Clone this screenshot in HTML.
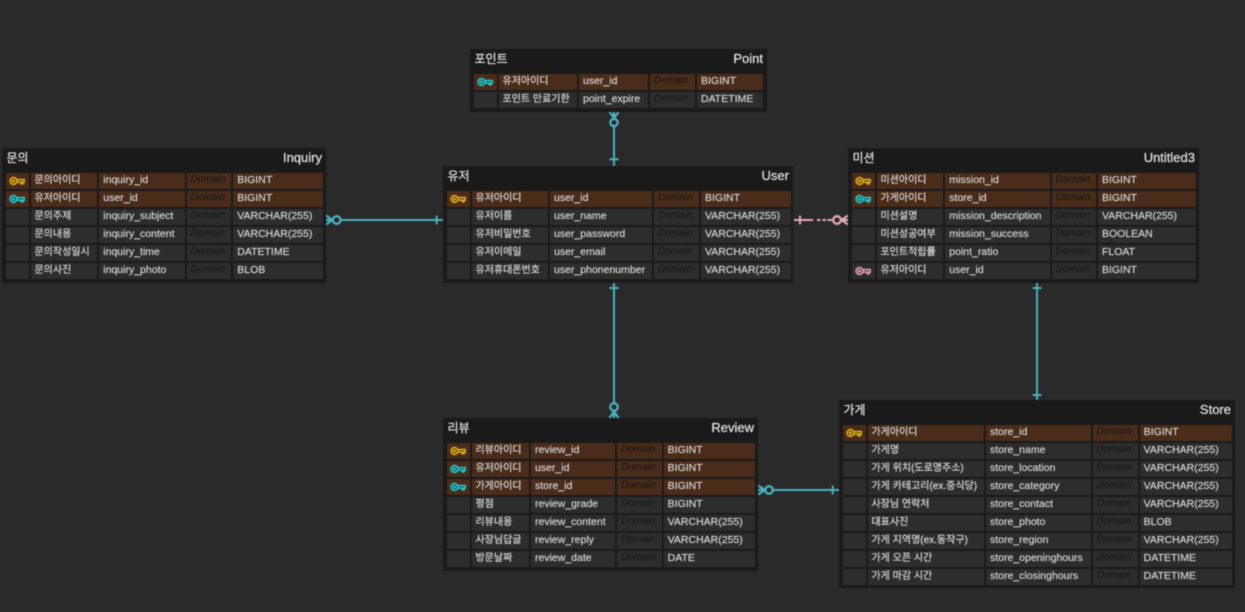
<!DOCTYPE html>
<html lang="ko"><head><meta charset="utf-8"><title>ERD</title>
<style>
html,body{margin:0;padding:0;background:#2a2a2a}
#c{position:relative;width:1245px;height:612px;overflow:hidden;background:#2a2a2a;font-family:"Liberation Sans","Noto Sans CJK KR",sans-serif;filter:blur(.4px)}
.t{position:absolute;background:#1a1a1a;box-sizing:border-box}
.h{position:absolute;left:4.5px;right:4px;top:.5px;height:24px;display:flex;justify-content:space-between;color:#e0e0e0;font-size:13px;line-height:18px;-webkit-text-stroke:.25px #e0e0e0}
.h b{font-weight:400;font-size:12px}
.g{position:absolute;top:25px;display:grid;grid-auto-rows:16.2px;row-gap:1.8px;column-gap:2px;font-size:10.5px;line-height:14px;color:#d9d9d9}
.g span{background:#2d2d2d;padding-left:4px;white-space:nowrap;overflow:hidden;display:block;-webkit-text-stroke:.15px #d9d9d9}
.g span:nth-child(5n+2){font-size:10px;padding-left:3.5px;line-height:15px;-webkit-text-stroke:.2px #d9d9d9}
.g span:nth-child(5n+4){font-style:italic;font-size:10px;color:#161616;line-height:13px;-webkit-text-stroke:0}
.g span.k{background:#4a2c1a}
.g span svg{display:block;margin:3px 0 0 -1px}
svg.l{position:absolute;left:0;top:0}
</style></head><body><div id="c">

<svg width="0" height="0" style="position:absolute"><defs>
<symbol id="key" viewBox="0 0 16 11"><g fill="none" stroke="currentColor" stroke-width="1.7"><circle cx="4.5" cy="5" r="3.4"/><circle cx="4.4" cy="5" r=".8"/><path d="M8 3.6H15.3V6.2H14V7.8H12.3V6.2H8"/></g></symbol>
</defs></svg>

<svg class="l" width="1245" height="612" fill="none" stroke="#4ab2be" stroke-width="2">
<path d="M614 112V166M609.500 159.300H618.500"/><circle cx="614" cy="122.500" r="3.700" stroke-width="2.300" fill="#2a2a2a"/><path d="M609.500 112L614 118L618.500 112M614 112V118" stroke-width="2.200"/>
<path d="M326 220H443M436.700 215.500V224.500"/><circle cx="336.700" cy="220" r="3.800" stroke-width="2.300" fill="#2a2a2a"/><path d="M326 215.500L332.500 220L326 224.500M326 220H332" stroke-width="2.200"/>
<path d="M614 283V418M609.500 288H618.500"/><circle cx="614" cy="407" r="3.800" stroke-width="2.300" fill="#2a2a2a"/><path d="M609.500 418L614 411.500L618.500 418M614 411V418" stroke-width="2.200"/>
<path d="M1037 283V400M1032.500 288H1041.500M1032.500 395H1041.500"/>
<path d="M758 490H839M832.700 485.500V494.500"/><circle cx="769" cy="490" r="3.800" stroke-width="2.300" fill="#2a2a2a"/><path d="M758 485.500L765 490L758 494.500M758 490H765" stroke-width="2.200"/>
<g stroke="#e3aab6"><path d="M794 220H813M817 220H820.500M822.500 220H826M827.500 220H832M800 215.500V224.500"/><circle cx="837" cy="220" r="3.800" stroke-width="2.300" fill="#2a2a2a"/><path d="M848 215.500L841.500 220L848 224.500M848 220H841" stroke-width="2.200"/></g>
</svg>

<div class="t" style="left:470px;top:49px;width:297px;height:63px"><div class="h"><b>포인트</b><div>Point</div></div>
<div class="g" style="left:4px;grid-template-columns:23px 78px 69px 45px 66px">
<span class="k"><svg width="16" height="11" style="color:#19c8cf"><use href="#key"/></svg></span><span class="k">유저아이디</span><span class="k">user_id</span><span class="k">Domain</span><span class="k">BIGINT</span>
<span></span><span>포인트 만료기한</span><span>point_expire</span><span>Domain</span><span>DATETIME</span>
</div></div>

<div class="t" style="left:443px;top:166px;width:350px;height:117px"><div class="h"><b>유저</b><div>User</div></div>
<div class="g" style="left:4px;grid-template-columns:23px 76px 102px 45px 90px">
<span class="k"><svg width="16" height="11" style="color:#d9a91c"><use href="#key"/></svg></span><span class="k">유저아이디</span><span class="k">user_id</span><span class="k">Domain</span><span class="k">BIGINT</span>
<span></span><span>유저이름</span><span>user_name</span><span>Domain</span><span>VARCHAR(255)</span>
<span></span><span>유저비밀번호</span><span>user_password</span><span>Domain</span><span>VARCHAR(255)</span>
<span></span><span>유저이메일</span><span>user_email</span><span>Domain</span><span>VARCHAR(255)</span>
<span></span><span>유저휴대폰번호</span><span>user_phonenumber</span><span>Domain</span><span>VARCHAR(255)</span>
</div></div>

<div class="t" style="left:2px;top:148px;width:324px;height:135px"><div class="h"><b>문의</b><div>Inquiry</div></div>
<div class="g" style="left:3.700px;grid-template-columns:23.300px 66.300px 85.400px 44.600px 89.400px">
<span class="k"><svg width="16" height="11" style="color:#d9a91c"><use href="#key"/></svg></span><span class="k">문의아이디</span><span class="k">inquiry_id</span><span class="k">Domain</span><span class="k">BIGINT</span>
<span class="k"><svg width="16" height="11" style="color:#19c8cf"><use href="#key"/></svg></span><span class="k">유저아이디</span><span class="k">user_id</span><span class="k">Domain</span><span class="k">BIGINT</span>
<span></span><span>문의주제</span><span>inquiry_subject</span><span>Domain</span><span>VARCHAR(255)</span>
<span></span><span>문의내용</span><span>inquiry_content</span><span>Domain</span><span>VARCHAR(255)</span>
<span></span><span>문의작성일시</span><span>inquiry_time</span><span>Domain</span><span>DATETIME</span>
<span></span><span>문의사진</span><span>inquiry_photo</span><span>Domain</span><span>BLOB</span>
</div></div>

<div class="t" style="left:848px;top:148px;width:351px;height:135px"><div class="h"><b>미션</b><div>Untitled3</div></div>
<div class="g" style="left:3.700px;grid-template-columns:23.300px 66.300px 104.400px 44.300px 97.700px">
<span class="k"><svg width="16" height="11" style="color:#d9a91c"><use href="#key"/></svg></span><span class="k">미션아이디</span><span class="k">mission_id</span><span class="k">Domain</span><span class="k">BIGINT</span>
<span class="k"><svg width="16" height="11" style="color:#19c8cf"><use href="#key"/></svg></span><span class="k">가게아이디</span><span class="k">store_id</span><span class="k">Domain</span><span class="k">BIGINT</span>
<span></span><span>미션설명</span><span>mission_description</span><span>Domain</span><span>VARCHAR(255)</span>
<span></span><span>미션성공여부</span><span>mission_success</span><span>Domain</span><span>BOOLEAN</span>
<span></span><span>포인트적립률</span><span>point_ratio</span><span>Domain</span><span>FLOAT</span>
<span><svg width="16" height="11" style="color:#d99aa8"><use href="#key"/></svg></span><span>유저아이디</span><span>user_id</span><span>Domain</span><span>BIGINT</span>
</div></div>

<div class="t" style="left:443px;top:418px;width:315px;height:153px"><div class="h"><b>리뷰</b><div>Review</div></div>
<div class="g" style="left:3.700px;grid-template-columns:23.300px 57px 84px 44.700px 91px">
<span class="k"><svg width="16" height="11" style="color:#d9a91c"><use href="#key"/></svg></span><span class="k">리뷰아이디</span><span class="k">review_id</span><span class="k">Domain</span><span class="k">BIGINT</span>
<span class="k"><svg width="16" height="11" style="color:#19c8cf"><use href="#key"/></svg></span><span class="k">유저아이디</span><span class="k">user_id</span><span class="k">Domain</span><span class="k">BIGINT</span>
<span class="k"><svg width="16" height="11" style="color:#19c8cf"><use href="#key"/></svg></span><span class="k">가게아이디</span><span class="k">store_id</span><span class="k">Domain</span><span class="k">BIGINT</span>
<span></span><span>평점</span><span>review_grade</span><span>Domain</span><span>BIGINT</span>
<span></span><span>리뷰내용</span><span>review_content</span><span>Domain</span><span>VARCHAR(255)</span>
<span></span><span>사장님답글</span><span>review_reply</span><span>Domain</span><span>VARCHAR(255)</span>
<span></span><span>방문날짜</span><span>review_date</span><span>Domain</span><span>DATE</span>
</div></div>

<div class="t" style="left:839px;top:400px;width:396px;height:188px"><div class="h"><b>가게</b><div>Store</div></div>
<div class="g" style="left:3.700px;grid-template-columns:23.300px 116px 104.700px 45px 92px">
<span class="k"><svg width="16" height="11" style="color:#d9a91c"><use href="#key"/></svg></span><span class="k">가게아이디</span><span class="k">store_id</span><span class="k">Domain</span><span class="k">BIGINT</span>
<span></span><span>가게명</span><span>store_name</span><span>Domain</span><span>VARCHAR(255)</span>
<span></span><span>가게 위치(도로명주소)</span><span>store_location</span><span>Domain</span><span>VARCHAR(255)</span>
<span></span><span>가게 카테고리(ex.중식당)</span><span>store_category</span><span>Domain</span><span>VARCHAR(255)</span>
<span></span><span>사장님 연락처</span><span>store_contact</span><span>Domain</span><span>VARCHAR(255)</span>
<span></span><span>대표사진</span><span>store_photo</span><span>Domain</span><span>BLOB</span>
<span></span><span>가게 지역명(ex.동작구)</span><span>store_region</span><span>Domain</span><span>VARCHAR(255)</span>
<span></span><span>가게 오픈 시간</span><span>store_openinghours</span><span>Domain</span><span>DATETIME</span>
<span></span><span>가게 마감 시간</span><span>store_closinghours</span><span>Domain</span><span>DATETIME</span>
</div></div>

</div></body></html>
